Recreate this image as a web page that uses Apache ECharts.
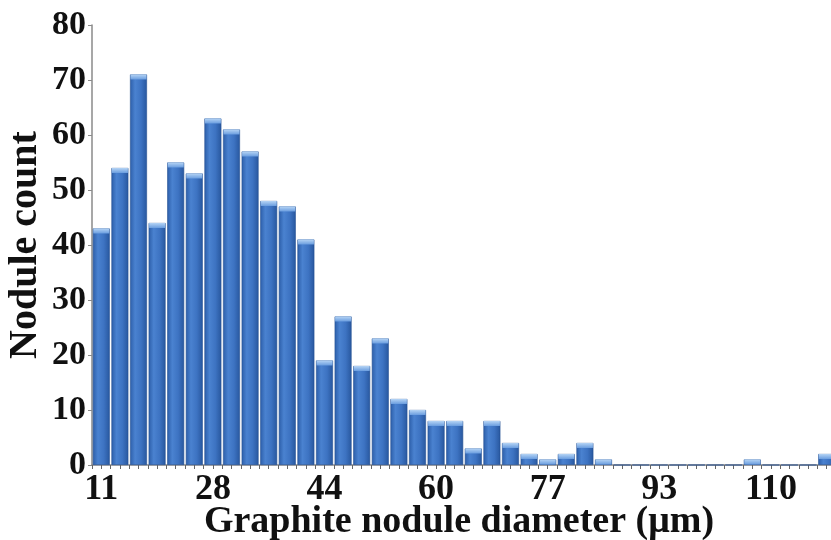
<!DOCTYPE html>
<html>
<head>
<meta charset="utf-8">
<script src="https://cdn.jsdelivr.net/npm/echarts@6/dist/echarts.min.js"></script>
<style>
html,body{margin:0;padding:0;background:#fff;}
#chart{width:831px;height:540px;}
</style>
</head>
<body>
<div id="chart"></div>
<script>
// Bin centres (µm); only every 6th is labelled on the axis
const diameters = ["11","14","16","19","22","25","28","30","33","36","38","41","44","47","49","52","55","58","60","63","66","69","71","74","77","80","82","85","88","91","93","96","99","102","104","107","110","113","115","118"];
const counts = [43,54,71,44,55,53,63,61,57,48,47,41,19,27,18,23,12,10,8,8,3,8,4,2,1,2,4,1,0,0,0,0,0,0,0,1,0,0,0,2];
const yTicks = [0,10,20,30,40,50,60,70,80];
const xTitle = "Graphite nodule diameter (\u03bcm)";
const yTitle = "Nodule count";

const chart = echarts.init(document.getElementById('chart'));
const serif = '"Liberation Serif","DejaVu Serif",serif';
const axisGrey = '#8a8a8a';

chart.setOption({
  animation: false,
  backgroundColor: '#ffffff',
  grid: { left: 92, top: 25, width: 744, height: 440, containLabel: false, outerBoundsMode: 'none' },
  xAxis: [
    {
      type: 'category',
      data: diameters,
      boundaryGap: true,
      axisLine: { show: true, lineStyle: { color: axisGrey, width: 1.5 } },
      axisTick: { show: false },
      axisLabel: {
        interval: 5,
        margin: 7,
        fontFamily: serif,
        fontWeight: 'bold',
        fontSize: 36,
        color: '#111'
      },
      name: xTitle,
      nameLocation: 'middle',
      nameGap: 38,
      nameMoveOverlap: false,
      nameTextStyle: { fontFamily: serif, fontWeight: 'bold', fontSize: 38, color: '#111', padding: [0, 0, 0, -10] },
      splitLine: { show: false }
    },
    {
      type: 'value',
      min: 0,
      max: diameters.length,
      interval: 0.5,
      position: 'bottom',
      axisLine: { show: false },
      axisTick: { show: true, length: 4, lineStyle: { color: '#666', width: 1 } },
      axisLabel: { show: false },
      splitLine: { show: false }
    }
  ],
  yAxis: {
    type: 'value',
    min: yTicks[0],
    max: yTicks[yTicks.length - 1],
    interval: 10,
    axisLine: { show: true, lineStyle: { color: axisGrey, width: 1.5 } },
    axisTick: { show: true, length: 4, lineStyle: { color: axisGrey } },
    axisLabel: {
      margin: 6,
      fontFamily: serif,
      fontWeight: 'bold',
      fontSize: 34,
      color: '#111'
    },
    splitLine: { show: false },
    name: yTitle,
    nameLocation: 'middle',
    nameGap: 46,
    nameRotate: 90,
    nameMoveOverlap: false,
    nameTextStyle: { fontFamily: serif, fontWeight: 'bold', fontSize: 40, color: '#111' }
  },
  series: [
    {
      type: 'bar',
      data: counts,
      xAxisIndex: 0,
      barCategoryGap: '9%',
      barGap: '-100%',
      itemStyle: {
        color: new echarts.graphic.LinearGradient(0, 0, 1, 0, [
          { offset: 0, color: '#2c5ea9' },
          { offset: 0.3, color: '#4a82d0' },
          { offset: 0.65, color: '#3d73c2' },
          { offset: 1, color: '#28579e' }
        ]),
        borderColor: '#244f92',
        borderWidth: 0.6
      }
    },
    {
      type: 'pictorialBar',
      xAxisIndex: 0,
      data: counts.map(v => v > 0 ? v : '-'),
      symbol: 'rect',
      symbolSize: [16, 5],
      symbolPosition: 'end',
      symbolOffset: [0, 0],
      barGap: '-100%',
      barCategoryGap: '9%',
      z: 3,
      itemStyle: {
        color: new echarts.graphic.LinearGradient(0, 0, 0, 1, [
          { offset: 0, color: '#b5d4f5' },
          { offset: 1, color: '#6a9ddf' }
        ])
      }
    }
  ]
});
</script>
</body>
</html>
